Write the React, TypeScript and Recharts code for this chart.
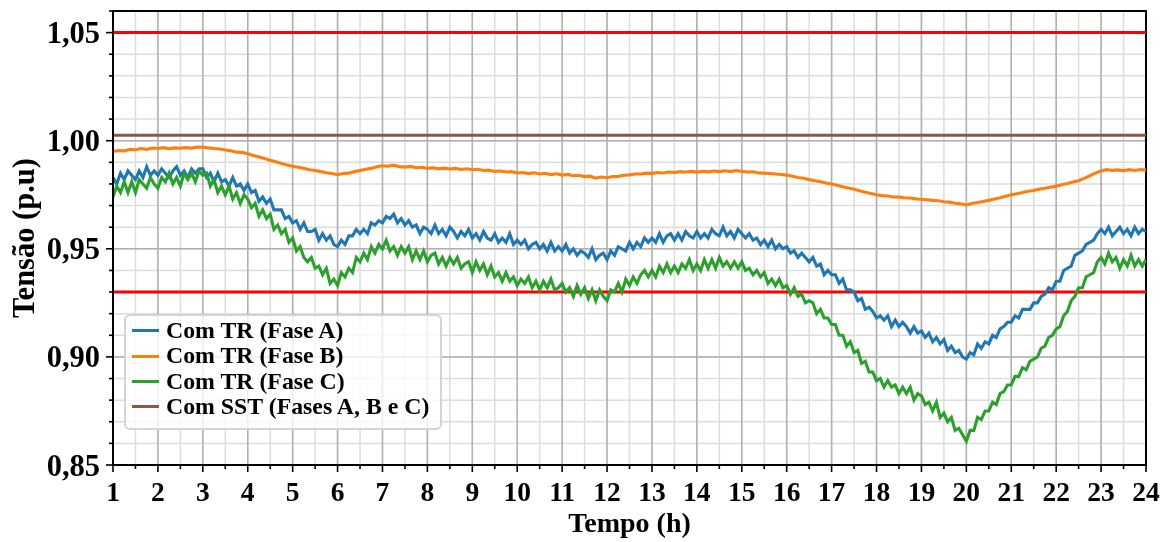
import {
  LineChart,
  Line,
  XAxis,
  YAxis,
  CartesianGrid,
  ReferenceLine,
  ReferenceArea,
  Legend,
} from "recharts";

// Fase A e Fase C: amostras a cada 5 min (12 por hora), de 1h a 24h
const faseA = [
  0.983, 0.980, 0.985, 0.982, 0.986, 0.984, 0.982, 0.986, 0.983, 0.988, 0.984, 0.986,
  0.984, 0.987, 0.985, 0.983, 0.986, 0.988, 0.984, 0.986, 0.983, 0.987, 0.985, 0.987,
  0.987, 0.983, 0.985, 0.981, 0.985, 0.981, 0.982, 0.979, 0.983, 0.979, 0.980, 0.977,
  0.980, 0.976, 0.977, 0.972, 0.974, 0.971, 0.973, 0.968, 0.968, 0.968, 0.964, 0.965,
  0.962, 0.963, 0.959, 0.962, 0.958, 0.958, 0.959, 0.954, 0.957, 0.954, 0.956, 0.952,
  0.951, 0.954, 0.952, 0.956, 0.956, 0.959, 0.957, 0.959, 0.957, 0.962, 0.961, 0.963,
  0.962, 0.965, 0.964, 0.966, 0.962, 0.964, 0.961, 0.963, 0.960, 0.961, 0.957, 0.960,
  0.959, 0.957, 0.961, 0.957, 0.959, 0.956, 0.960, 0.958, 0.955, 0.958, 0.956, 0.959,
  0.955, 0.957, 0.954, 0.958, 0.955, 0.954, 0.957, 0.953, 0.955, 0.953, 0.957, 0.952,
  0.954, 0.952, 0.954, 0.950, 0.952, 0.953, 0.950, 0.952, 0.949, 0.953, 0.949, 0.951,
  0.949, 0.952, 0.948, 0.950, 0.947, 0.949, 0.948, 0.946, 0.950, 0.945, 0.947, 0.948,
  0.945, 0.949, 0.947, 0.951, 0.950, 0.949, 0.953, 0.950, 0.953, 0.951, 0.955, 0.953,
  0.955, 0.953, 0.957, 0.953, 0.956, 0.957, 0.954, 0.957, 0.954, 0.958, 0.956, 0.955,
  0.958, 0.955, 0.957, 0.955, 0.959, 0.957, 0.956, 0.960, 0.956, 0.958, 0.955, 0.959,
  0.957, 0.955, 0.957, 0.954, 0.955, 0.952, 0.954, 0.951, 0.954, 0.950, 0.952, 0.950,
  0.951, 0.948, 0.949, 0.946, 0.948, 0.946, 0.944, 0.946, 0.942, 0.943, 0.938, 0.940,
  0.938, 0.938, 0.934, 0.936, 0.931, 0.931, 0.930, 0.926, 0.927, 0.922, 0.923, 0.921,
  0.918, 0.919, 0.917, 0.919, 0.914, 0.917, 0.914, 0.916, 0.914, 0.911, 0.914, 0.911,
  0.912, 0.909, 0.911, 0.907, 0.909, 0.906, 0.908, 0.903, 0.905, 0.902, 0.903, 0.900,
  0.899, 0.902, 0.901, 0.906, 0.904, 0.907, 0.906, 0.910, 0.909, 0.913, 0.914, 0.916,
  0.916, 0.919, 0.918, 0.922, 0.922, 0.922, 0.925, 0.925, 0.928, 0.929, 0.932, 0.931,
  0.935, 0.935, 0.940, 0.941, 0.942, 0.947, 0.948, 0.949, 0.952, 0.953, 0.954, 0.957,
  0.959, 0.957, 0.960, 0.956, 0.958, 0.960, 0.957, 0.959, 0.956, 0.960, 0.957, 0.959,
  0.958,
];

const faseC = [
  0.974, 0.979, 0.976, 0.981, 0.976, 0.981, 0.976, 0.982, 0.980, 0.978, 0.983, 0.980,
  0.978, 0.983, 0.981, 0.985, 0.980, 0.983, 0.979, 0.985, 0.982, 0.985, 0.981, 0.986,
  0.984, 0.985, 0.979, 0.982, 0.976, 0.979, 0.975, 0.979, 0.973, 0.976, 0.971, 0.975,
  0.973, 0.969, 0.971, 0.965, 0.968, 0.964, 0.966, 0.959, 0.961, 0.957, 0.959, 0.953,
  0.955, 0.949, 0.951, 0.946, 0.944, 0.946, 0.941, 0.942, 0.938, 0.941, 0.934, 0.936,
  0.933, 0.939, 0.937, 0.941, 0.939, 0.946, 0.944, 0.948, 0.945, 0.951, 0.948, 0.952,
  0.950, 0.954, 0.949, 0.951, 0.947, 0.951, 0.948, 0.951, 0.945, 0.949, 0.945, 0.949,
  0.944, 0.947, 0.948, 0.943, 0.946, 0.942, 0.946, 0.943, 0.946, 0.941, 0.943, 0.944,
  0.939, 0.944, 0.940, 0.943, 0.938, 0.942, 0.937, 0.939, 0.935, 0.939, 0.935, 0.937,
  0.933, 0.936, 0.934, 0.937, 0.932, 0.935, 0.931, 0.935, 0.932, 0.936, 0.931, 0.932,
  0.934, 0.930, 0.932, 0.928, 0.933, 0.929, 0.932, 0.927, 0.931, 0.926, 0.931, 0.928,
  0.926, 0.931, 0.930, 0.934, 0.930, 0.936, 0.933, 0.937, 0.934, 0.938, 0.940, 0.937,
  0.940, 0.937, 0.942, 0.939, 0.943, 0.939, 0.942, 0.939, 0.943, 0.941, 0.945, 0.940,
  0.943, 0.940, 0.945, 0.941, 0.945, 0.941, 0.946, 0.942, 0.944, 0.941, 0.944, 0.941,
  0.944, 0.940, 0.941, 0.938, 0.940, 0.937, 0.939, 0.934, 0.936, 0.933, 0.936, 0.932,
  0.933, 0.929, 0.932, 0.928, 0.929, 0.925, 0.926, 0.925, 0.920, 0.922, 0.918, 0.918,
  0.915, 0.915, 0.910, 0.910, 0.905, 0.907, 0.902, 0.903, 0.897, 0.898, 0.893, 0.893,
  0.889, 0.890, 0.886, 0.889, 0.886, 0.887, 0.883, 0.886, 0.883, 0.886, 0.880, 0.883,
  0.882, 0.878, 0.879, 0.875, 0.879, 0.872, 0.874, 0.870, 0.872, 0.866, 0.867, 0.864,
  0.861, 0.866, 0.866, 0.872, 0.871, 0.875, 0.875, 0.879, 0.878, 0.883, 0.884, 0.887,
  0.887, 0.891, 0.891, 0.895, 0.894, 0.898, 0.899, 0.900, 0.904, 0.905, 0.909, 0.910,
  0.913, 0.914, 0.919, 0.921, 0.926, 0.928, 0.932, 0.932, 0.937, 0.938, 0.939, 0.944,
  0.946, 0.943, 0.948, 0.944, 0.946, 0.941, 0.945, 0.942, 0.947, 0.942, 0.945, 0.942,
  0.945,
];

// Fase B: amostras a cada 7,5 min (8 por hora)
const faseB = [
  0.9950, 0.9955, 0.9953, 0.9960, 0.9958, 0.9964, 0.9960, 0.9966,
  0.9964, 0.9968, 0.9963, 0.9967, 0.9965, 0.9968, 0.9966, 0.9971,
  0.9970, 0.9967, 0.9964, 0.9962, 0.9957, 0.9954, 0.9947, 0.9946,
  0.9940, 0.9932, 0.9925, 0.9918, 0.9910, 0.9903, 0.9895, 0.9888,
  0.9882, 0.9877, 0.9872, 0.9866, 0.9862, 0.9857, 0.9852, 0.9848,
  0.9843, 0.9848, 0.9850, 0.9857, 0.9862, 0.9868, 0.9872, 0.9880,
  0.9884, 0.9882, 0.9887, 0.9880, 0.9878, 0.9881, 0.9875, 0.9877,
  0.9872, 0.9875, 0.9870, 0.9873, 0.9869, 0.9872, 0.9867, 0.9870,
  0.9866, 0.9868, 0.9862, 0.9864, 0.9858, 0.9860, 0.9855, 0.9857,
  0.9851, 0.9853, 0.9848, 0.9852, 0.9846, 0.9849, 0.9843, 0.9847,
  0.9841, 0.9844, 0.9838, 0.9840, 0.9834, 0.9836, 0.9827, 0.9832,
  0.9829, 0.9834, 0.9835, 0.9840, 0.9842, 0.9846, 0.9846, 0.9850,
  0.9849, 0.9853, 0.9851, 0.9855, 0.9853, 0.9857, 0.9855, 0.9858,
  0.9855, 0.9859, 0.9856, 0.9860, 0.9857, 0.9861, 0.9857, 0.9862,
  0.9858, 0.9855, 0.9856, 0.9851, 0.9850, 0.9848, 0.9846, 0.9844,
  0.9841, 0.9836, 0.9830, 0.9826, 0.9820, 0.9815, 0.9810, 0.9804,
  0.9800, 0.9794, 0.9787, 0.9781, 0.9775, 0.9768, 0.9762, 0.9756,
  0.9750, 0.9746, 0.9744, 0.9740, 0.9739, 0.9736, 0.9735, 0.9731,
  0.9729, 0.9727, 0.9724, 0.9722, 0.9718, 0.9716, 0.9711, 0.9708,
  0.9703, 0.9710, 0.9714, 0.9719, 0.9724, 0.9730, 0.9736, 0.9743,
  0.9750, 0.9755, 0.9760, 0.9766, 0.9770, 0.9776, 0.9780, 0.9785,
  0.9790, 0.9796, 0.9802, 0.9809, 0.9815, 0.9826, 0.9838, 0.9850,
  0.9860, 0.9866, 0.9862, 0.9865, 0.9861, 0.9866, 0.9862, 0.9867,
  0.9864,
];

const tensaoSST = 1.0025;
const limites = [1.05, 0.93];

const xTicks = [
  1, 1.5, 2, 2.5, 3, 3.5, 4, 4.5, 5, 5.5, 6, 6.5, 7, 7.5, 8, 8.5, 9, 9.5,
  10, 10.5, 11, 11.5, 12, 12.5, 13, 13.5, 14, 14.5, 15, 15.5, 16, 16.5,
  17, 17.5, 18, 18.5, 19, 19.5, 20, 20.5, 21, 21.5, 22, 22.5, 23, 23.5, 24,
];
const xMajor = [
  1, 2, 3, 4, 5, 6, 7, 8, 9, 10, 11, 12, 13, 14, 15, 16, 17, 18, 19, 20,
  21, 22, 23, 24,
];
const yTicks = [
  0.85, 0.86, 0.87, 0.88, 0.89, 0.9, 0.91, 0.92, 0.93, 0.94, 0.95, 0.96,
  0.97, 0.98, 0.99, 1.0, 1.01, 1.02, 1.03, 1.04, 1.05, 1.06,
];
const yMajor = [0.85, 0.9, 0.95, 1.0, 1.05];

const toRows = (vals: number[], perHour: number) =>
  vals.map((v, i) => ({ t: 1 + i / perHour, v }));

const series = [
  { key: "a", name: "Com TR (Fase A)", color: "#1f77b4", width: 3.1, data: toRows(faseA, 12) },
  { key: "b", name: "Com TR (Fase B)", color: "#ff7f0e", width: 3.1, data: toRows(faseB, 8) },
  { key: "c", name: "Com TR (Fase C)", color: "#2ca02c", width: 3.1, data: toRows(faseC, 12) },
  {
    key: "sst",
    name: "Com SST (Fases A, B e C)",
    color: "#8c564b",
    width: 3,
    data: [
      { t: 1, v: tensaoSST },
      { t: 24, v: tensaoSST },
    ],
  },
];

const FONT = "'Liberation Serif', 'Times New Roman', serif";

const isMajorY = (v: number) => yMajor.some((m) => Math.abs(m - v) < 1e-6);

const XTick = (props: any) => {
  const { x, y, payload } = props;
  const major = xMajor.includes(payload.value);
  return (
    <g>
      <line x1={x} x2={x} y1={y} y2={y + (major ? 7 : 4)} stroke="#000" strokeWidth={1.6} />
      {major && (
        <text x={x} y={y + 36} textAnchor="middle" fontFamily={FONT} fontWeight="bold" fontSize={27.5} fill="#000">
          {payload.value}
        </text>
      )}
    </g>
  );
};

const YTick = (props: any) => {
  const { x, y, payload } = props;
  const major = isMajorY(payload.value);
  return (
    <g>
      <line x1={x - (major ? 7 : 4)} x2={x} y1={y} y2={y} stroke="#000" strokeWidth={1.6} />
      {major && (
        <text x={x - 13} y={y + 10.5} textAnchor="end" fontFamily={FONT} fontWeight="bold" fontSize={30.5} fill="#000">
          {payload.value.toFixed(2).replace(".", ",")}
        </text>
      )}
    </g>
  );
};

const YTitle = (props: any) => {
  const vb = props.viewBox;
  const cx = 34;
  const cy = vb.y + vb.height / 2;
  return (
    <text x={cx} y={cy} transform={`rotate(-90 ${cx} ${cy})`} textAnchor="middle" fontFamily={FONT} fontWeight="bold" fontSize={30.5} fill="#000">
      Tensão (p.u)
    </text>
  );
};

const XTitle = (props: any) => {
  const vb = props.viewBox;
  return (
    <text x={vb.x + vb.width / 2} y={532} textAnchor="middle" fontFamily={FONT} fontWeight="bold" fontSize={28} fill="#000">
      Tempo (h)
    </text>
  );
};

const LegendBox = () => (
  <div
    style={{
      boxSizing: "border-box",
      width: 318,
      height: 116,
      border: "2px solid #d4d4d4",
      borderRadius: 6,
      background: "rgba(255,255,255,0.8)",
      padding: "2px 0 0 6px",
    }}
  >
    {series.map((s) => (
      <div key={s.key} style={{ display: "flex", alignItems: "center", height: 25.4 }}>
        <div style={{ width: 27, height: 3, background: s.color, marginRight: 7 }} />
        <span style={{ fontFamily: FONT, fontWeight: "bold", fontSize: 23.8, lineHeight: 1, color: "#000", whiteSpace: "nowrap" }}>
          {s.name}
        </span>
      </div>
    ))}
  </div>
);

export default function App() {
  return (
    <div style={{ position: "fixed", left: 0, top: 0 }}>
      <LineChart width={1168} height={542} margin={{ top: 11, right: 22, bottom: 0, left: 0 }}>
        <CartesianGrid stroke="#dddddd" strokeWidth={1.5} />
        <CartesianGrid stroke="#b0b0b0" strokeWidth={1.5} horizontalValues={yMajor} verticalValues={xMajor} />
        <XAxis
          dataKey="t"
          type="number"
          domain={[1, 24]}
          ticks={xTicks}
          interval={0}
          allowDataOverflow
          height={77}
          tickSize={0}
          tickMargin={0}
          tickLine={false}
          tick={<XTick />}
          axisLine={{ stroke: "#000", strokeWidth: 2 }}
          label={{ content: <XTitle /> }}
        />
        <YAxis
          type="number"
          domain={[0.85, 1.06]}
          ticks={yTicks}
          interval={0}
          allowDataOverflow
          width={113}
          tickSize={0}
          tickMargin={0}
          tickLine={false}
          tick={<YTick />}
          axisLine={{ stroke: "#000", strokeWidth: 2 }}
          label={{ content: <YTitle /> }}
        />
        {limites.map((v) => (
          <ReferenceLine key={v} y={v} stroke="#ff0000" strokeWidth={3} />
        ))}
        {series.map((s) => (
          <Line
            key={s.key}
            data={s.data}
            type="linear"
            dataKey="v"
            name={s.name}
            stroke={s.color}
            strokeWidth={s.width}
            dot={false}
            activeDot={false}
            isAnimationActive={false}
          />
        ))}
        <ReferenceArea x1={1} x2={24} y1={0.85} y2={1.06} fill="none" stroke="#000" strokeWidth={2} />
        <Legend
          layout="horizontal"
          verticalAlign="middle"
          align="center"
          content={<LegendBox />}
          wrapperStyle={{ left: 124, top: 314, width: 318, height: 116 }}
        />
      </LineChart>
    </div>
  );
}
